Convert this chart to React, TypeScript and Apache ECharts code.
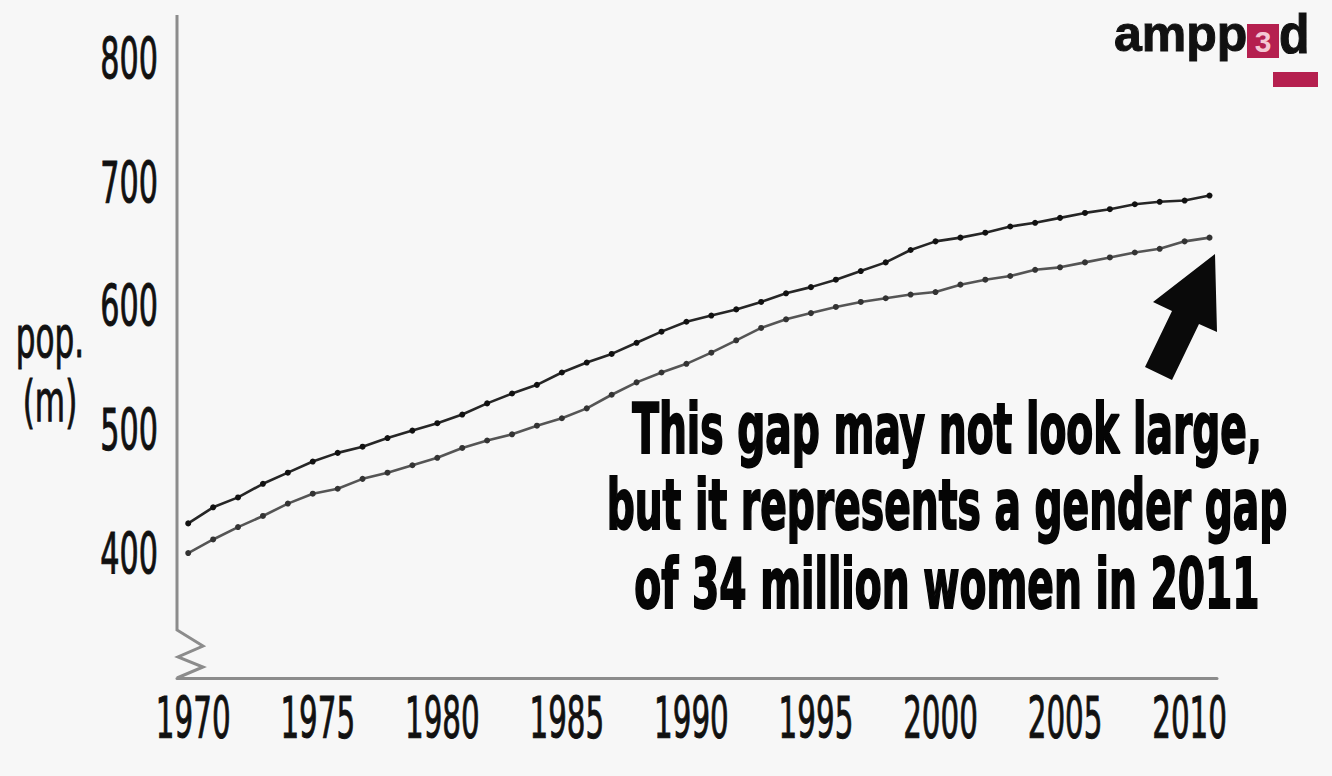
import React, { useEffect, useRef } from 'react';
import * as echarts from 'echarts';

const years = [
  1970, 1971, 1972, 1973, 1974, 1975, 1976, 1977, 1978, 1979,
  1980, 1981, 1982, 1983, 1984, 1985, 1986, 1987, 1988, 1989,
  1990, 1991, 1992, 1993, 1994, 1995, 1996, 1997, 1998, 1999,
  2000, 2001, 2002, 2003, 2004, 2005, 2006, 2007, 2008, 2009,
  2010, 2011,
];

// population in millions
const males = [
  425, 438, 446, 457, 466, 475, 482, 487, 494, 500,
  506, 513, 522, 530, 537, 547, 555, 562, 571, 580,
  588, 593, 598, 604, 611, 616, 622, 629, 636, 646,
  653, 656, 660, 665, 668, 672, 676, 679, 683, 685,
  686, 690,
];

const females = [
  401, 412, 422, 431, 441, 449, 453, 461, 466, 472,
  478, 486, 492, 497, 504, 510, 518, 529, 539, 547,
  554, 563, 573, 583, 590, 595, 600, 604, 607, 610,
  612, 618, 622, 625, 630, 632, 636, 640, 644, 647,
  653, 656,
];

const xTickLabels = [1970, 1975, 1980, 1985, 1990, 1995, 2000, 2005, 2010];
const yTickLabels = [400, 500, 600, 700, 800];
const yAxisTitle = ['pop.', '(m)'];
const annotationLines = [
  'This gap may not look large,',
  'but it represents a gender gap',
  'of 34 million women in 2011',
];

const FONT = "'DejaVu Sans Condensed', 'DejaVu Sans', sans-serif";
const X_MIN = 1969.55;
const X_MAX = 2011.3;
const Y_MIN = 300;
const Y_MAX = 836;

export default function App() {
  const ref = useRef<HTMLDivElement>(null);

  useEffect(() => {
    const chart = echarts.init(ref.current as HTMLDivElement, null, { renderer: 'svg' });
    const axisGray = '#8c8c8c';

    chart.setOption({
      animation: false,
      backgroundColor: '#f7f7f7',
      grid: { left: 177, right: 115, top: 15, bottom: 98 },
      xAxis: {
        type: 'value',
        min: X_MIN,
        max: X_MAX,
        axisLine: { show: true, lineStyle: { color: axisGray, width: 3 } },
        axisTick: { show: false },
        splitLine: { show: false },
        axisLabel: { show: false },
      },
      yAxis: {
        type: 'value',
        min: Y_MIN,
        max: Y_MAX,
        axisLine: { show: false },
        axisTick: { show: false },
        splitLine: { show: false },
        axisLabel: { show: false },
      },
      series: [
        {
          name: 'Males',
          type: 'line',
          data: years.map((y, i) => [y, males[i]]),
          symbol: 'circle',
          symbolSize: 6,
          lineStyle: { color: '#262626', width: 2.6 },
          itemStyle: { color: '#111111' },
          z: 3,
        },
        {
          name: 'Females',
          type: 'line',
          data: years.map((y, i) => [y, females[i]]),
          symbol: 'circle',
          symbolSize: 6,
          lineStyle: { color: '#555555', width: 2.6 },
          itemStyle: { color: '#333333' },
          z: 3,
        },
      ],
    });

    const px = (x: number, y: number) =>
      chart.convertToPixel({ gridIndex: 0 }, [x, y]) as number[];

    const labelStyle = (text: string, align: string) => ({
      text,
      font: `48px ${FONT}`,
      fill: '#111',
      stroke: '#111',
      lineWidth: 0.8,
      textAlign: align,
      textVerticalAlign: 'middle',
    });

    const xLabels = xTickLabels.map((v) => {
      const p = px(v, Y_MIN);
      return {
        type: 'text',
        x: p[0] + 5,
        y: p[1] + 40,
        scaleX: 0.68,
        scaleY: 1.2,
        style: labelStyle(String(v), 'center'),
      };
    });

    const yLabels = yTickLabels.map((v) => {
      const p = px(X_MIN, v);
      return {
        type: 'text',
        x: p[0] - 19,
        y: p[1],
        scaleX: 0.7,
        scaleY: 1.18,
        style: labelStyle(String(v), 'right'),
      };
    });

    chart.setOption({
      graphic: [
        {
          type: 'polyline',
          shape: {
            points: [
              [177, 15], [177, 630], [203, 646], [178, 657], [203, 667], [177, 678],
            ],
          },
          style: { stroke: axisGray, lineWidth: 3, fill: null },
          z: 2,
        },
        ...xLabels,
        ...yLabels,
        {
          type: 'text',
          x: 50,
          y: 337,
          scaleX: 0.72,
          scaleY: 1.18,
          style: labelStyle(yAxisTitle[0], 'center'),
        },
        {
          type: 'text',
          x: 50,
          y: 401,
          scaleX: 0.72,
          scaleY: 1.18,
          style: labelStyle(yAxisTitle[1], 'center'),
        },
        ...annotationLines.map((line, i) => ({
          type: 'text',
          x: 947,
          y: [429, 505, 584][i],
          scaleX: 0.765,
          scaleY: 1.22,
          style: {
            text: line,
            font: `bold 57px ${FONT}`,
            fill: '#050505',
            stroke: '#050505',
            lineWidth: 1.6,
            textAlign: 'center',
            textVerticalAlign: 'middle',
          },
        })),
        {
          type: 'polygon',
          shape: {
            points: [
              [1215, 254], [1217, 332], [1199, 324], [1172, 380],
              [1145, 367], [1172, 311], [1153, 302],
            ],
          },
          style: { fill: '#0a0a0a' },
        },
        {
          type: 'text',
          x: 1114,
          y: 34,
          style: {
            text: 'ampp',
            font: `bold 50px 'Liberation Sans', Arial, sans-serif`,
            fill: '#111',
            stroke: '#111',
            lineWidth: 1,
            textAlign: 'left',
            textVerticalAlign: 'middle',
          },
        },
        {
          type: 'rect',
          shape: { x: 1247, y: 24, width: 32, height: 34 },
          style: { fill: '#b5204f' },
        },
        {
          type: 'text',
          x: 1263,
          y: 41,
          style: {
            text: '3',
            font: `bold 30px 'Liberation Sans', Arial, sans-serif`,
            fill: '#f4c7d4',
            textAlign: 'center',
            textVerticalAlign: 'middle',
          },
        },
        {
          type: 'text',
          x: 1279,
          y: 34,
          scaleY: 1.1,
          style: {
            text: 'd',
            font: `bold 50px 'Liberation Sans', Arial, sans-serif`,
            fill: '#111',
            stroke: '#111',
            lineWidth: 1,
            textAlign: 'left',
            textVerticalAlign: 'middle',
          },
        },
        {
          type: 'rect',
          shape: { x: 1273, y: 72, width: 45, height: 15 },
          style: { fill: '#b5204f' },
        },
      ],
    });

    return () => {
      chart.dispose();
    };
  }, []);

  return (
    <div
      ref={ref}
      style={{ position: 'fixed', left: 0, top: 0, width: 1332, height: 776 }}
    />
  );
}
